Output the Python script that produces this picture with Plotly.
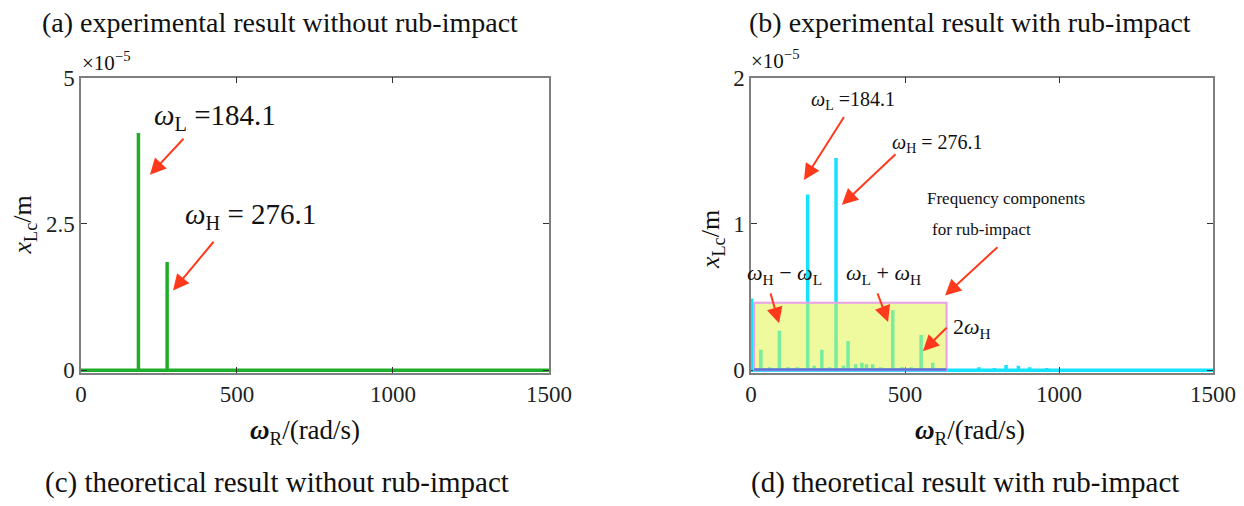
import plotly.graph_objects as go

# ---- data ----
# (a)/(c): without rub-impact (units of 1e-5 m)
freq_a = [184.1, 276.1]
amp_a = [4.05, 1.85]

# (b)/(d): with rub-impact (units of 1e-5 m)
freq_b = [2, 32, 60, 92, 120, 150, 184.1, 205, 230, 255, 276.1, 300, 315, 340, 360,
          375, 395, 420, 460.2, 490, 520, 552.2, 590, 700, 740, 790, 828, 868, 905, 960, 1040, 1140]
amp_b = [0.49, 0.14, 0.02, 0.27, 0.02, 0.02, 1.20, 0.03, 0.14, 0.02, 1.45, 0.03, 0.20, 0.04, 0.05,
         0.04, 0.04, 0.02, 0.41, 0.02, 0.02, 0.24, 0.05, 0.01, 0.02, 0.015, 0.035, 0.03, 0.02, 0.015, 0.01, 0.012]

x_ticks = [0, 500, 1000, 1500]
y_ticks_a = [0, 2.5, 5]
y_ticks_b = [0, 1, 2]
x_range = [0, 1500]

SERIF = "Liberation Serif"
RED = "#ff3a1c"
GREEN = "#1fae2a"
CYAN = "#16e2ff"


def stems(freqs, amps, x_end):
    xs, ys = [x_range[0]], [0]
    for f, a in sorted(zip(freqs, amps)):
        xs += [f, f, f]
        ys += [0, a, 0]
    xs.append(x_end)
    ys.append(0)
    return xs, ys


fig = go.Figure()
xa, ya = stems(freq_a, amp_a, x_range[1])
fig.add_trace(go.Scatter(x=xa, y=ya, mode="lines", line=dict(color=GREEN, width=3.5),
                         xaxis="x", yaxis="y", showlegend=False, hoverinfo="skip"))
xb, yb = stems(freq_b, amp_b, x_range[1])
fig.add_trace(go.Scatter(x=xb, y=yb, mode="lines", line=dict(color=CYAN, width=3.5),
                         xaxis="x2", yaxis="y2", showlegend=False, hoverinfo="skip"))

ax_common = dict(showgrid=False, zeroline=False, showline=True, linecolor="#7f7f7f", linewidth=1.5,
                 mirror="ticks", ticks="inside", ticklen=6, tickcolor="#333", tickwidth=1.2,
                 automargin=False,
                 tickfont=dict(family=SERIF, size=23, color="#231f20"))

fig.update_layout(
    template="none",
    width=1244, height=506, margin=dict(l=0, r=0, t=0, b=0, pad=0),
    paper_bgcolor="white", plot_bgcolor="white",
    xaxis=dict(domain=[0.0651, 0.4413], range=x_range, tickvals=x_ticks, anchor="y", **ax_common),
    yaxis=dict(domain=[0.2638, 0.8468], range=[-0.04, 5], tickvals=y_ticks_a,
               ticktext=[str(v) for v in y_ticks_a], anchor="x", **ax_common),
    xaxis2=dict(domain=[0.6037, 0.9751], range=x_range, tickvals=x_ticks, anchor="y2", **ax_common),
    yaxis2=dict(domain=[0.2638, 0.8468], range=[-0.016, 2], tickvals=y_ticks_b, anchor="x2", **ax_common),
)

# highlighted rub-impact region in (b)
fig.add_shape(type="rect", xref="x2", yref="y2", x0=10, x1=635, y0=0, y1=0.46,
              fillcolor="rgba(222,245,60,0.5)", line=dict(color="#e8a0e8", width=2), layer="above")
fig.add_shape(type="line", xref="x2", yref="y2", x0=10, x1=635, y0=0.004, y1=0.004,
              line=dict(color="#5c6fd8", width=2.5), layer="above")

ann = []


def txt(text, x, y, xref, yref, size, xanchor="center"):
    ann.append(dict(text=text, x=x, y=y, xref=xref, yref=yref, showarrow=False,
                    font=dict(family=SERIF, size=size, color="#111"), xanchor=xanchor, yanchor="middle"))


def arrow(x, y, ax_, ay_, xr, yr, width=2, size=1.6):
    ann.append(dict(text="", x=x, y=y, ax=ax_, ay=ay_, xref=xr, yref=yr, axref=xr, ayref=yr,
                    showarrow=True, arrowhead=2, arrowsize=size, arrowwidth=width, arrowcolor=RED))


# titles
txt("(a) experimental result without rub-impact", 0.225, 0.956, "paper", "paper", 28)
txt("(b) experimental result with rub-impact", 0.78, 0.956, "paper", "paper", 28)
txt("(c) theoretical result without rub-impact", 0.2225, 0.047, "paper", "paper", 29)
txt("(d) theoretical result with rub-impact", 0.776, 0.047, "paper", "paper", 29)

# exponent labels
txt("×10<sup>−5</sup>", 0.064, 0.878, "paper", "paper", 21, xanchor="left")
txt("×10<sup>−5</sup>", 0.602, 0.882, "paper", "paper", 21, xanchor="left")

# axis titles
xt = "<b><i>ω</i></b><sub>R</sub>/(rad/s)"
txt(xt, 0.245, 0.146, "paper", "paper", 27)
txt(xt, 0.78, 0.146, "paper", "paper", 27)
for xp, yp in [(0.0195, 0.555), (0.5725, 0.526)]:
    ann.append(dict(text="<i>x</i><sub>Lc</sub>/m", x=xp, y=yp, xref="paper", yref="paper",
                    xanchor="center", yanchor="middle",
                    showarrow=False, textangle=-90, font=dict(family=SERIF, size=26, color="#111")))

# panel (a) annotations
txt("<i>ω</i><sub>L</sub> =184.1", 429, 4.32, "x", "y", 29)
txt("<i>ω</i><sub>H</sub> = 276.1", 542, 2.63, "x", "y", 29)
arrow(221, 3.34, 333, 3.98, "x", "y")
arrow(295, 1.36, 429, 2.22, "x", "y")

# panel (b) annotations
txt("<i>ω</i><sub>L</sub> =184.1", 331, 1.84, "x2", "y2", 20)
txt("<i>ω</i><sub>H</sub> = 276.1", 607, 1.55, "x2", "y2", 20)
txt("Frequency components", 828, 1.17, "x2", "y2", 17)
txt("for rub-impact", 747, 0.96, "x2", "y2", 17)
txt("<i>ω</i><sub>H</sub> − <i>ω</i><sub>L</sub>", 110, 0.66, "x2", "y2", 22)
txt("<i>ω</i><sub>L</sub> + <i>ω</i><sub>H</sub>", 429, 0.66, "x2", "y2", 22)
txt("2<i>ω</i><sub>H</sub>", 718, 0.285, "x2", "y2", 22)
arrow(172, 1.30, 305, 1.74, "x2", "y2")
arrow(295, 1.13, 474, 1.485, "x2", "y2")
arrow(630, 0.51, 805, 0.85, "x2", "y2")
arrow(91, 0.32, 62, 0.535, "x2", "y2")
arrow(445, 0.33, 409, 0.535, "x2", "y2")
arrow(558, 0.13, 640, 0.30, "x2", "y2")

fig.update_layout(annotations=ann)
fig.write_html("out.html")
